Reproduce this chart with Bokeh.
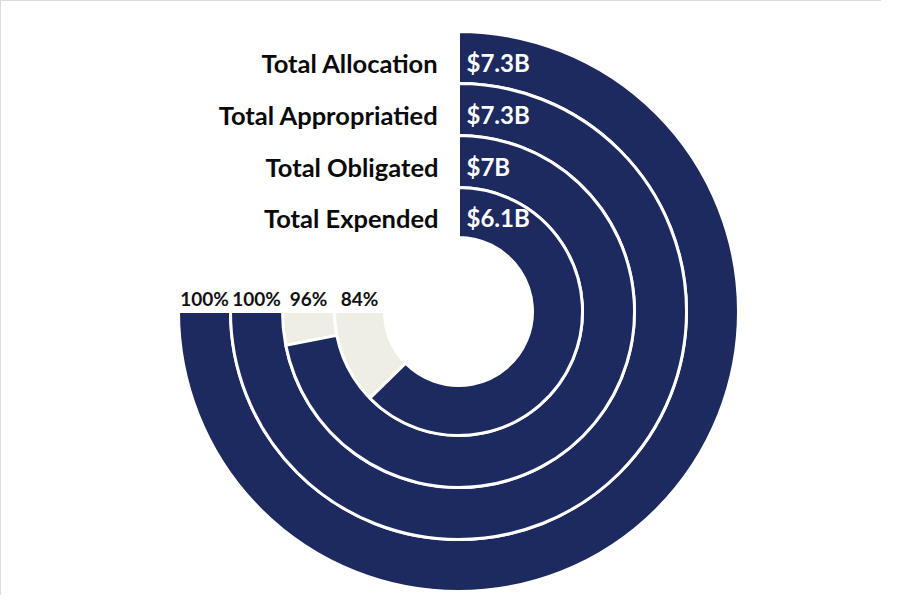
import numpy as np
from bokeh.plotting import figure
from bokeh.models import Range1d, ColumnDataSource
from bokeh.embed import file_html
from bokeh.resources import INLINE
from bokeh.core.properties import value

# ---- data ----
categories = ["Total Allocation", "Total Appropriatied", "Total Obligated", "Total Expended"]
amounts_b = [7.3, 7.3, 7.0, 6.1]
amount_labels = ["$7.3B", "$7.3B", "$7B", "$6.1B"]
pct_labels = ["100%", "100%", "96%", "84%"]

# ---- style / layout ----
NAVY = "#1c2a5f"
BEIGE = "#eeeee5"
FONT = "Lato"
W, H = 881, 595
cx, cy = 457, 310
R_OUT = 280
STEP = 52
SPAN = 1.5 * np.pi

n = len(categories)
outer = np.array([R_OUT - STEP * i for i in range(n)], dtype=float)
inner = outer - STEP
inner[-1] = outer[-1] - 50
mid = (outer + inner) / 2
frac = np.array(amounts_b) / max(amounts_b)

navy_src = ColumnDataSource(dict(
    ir=inner, orad=outer,
    start=np.pi / 2 - frac * SPAN, end=np.full(n, np.pi / 2),
))
mask = frac < 0.999
beige_src = ColumnDataSource(dict(
    ir=inner[mask], orad=outer[mask],
    start=np.full(mask.sum(), -np.pi), end=(np.pi / 2 - frac * SPAN)[mask],
))

p = figure(width=W, height=H, output_backend="svg", toolbar_location=None,
           x_range=Range1d(-cx, W - cx), y_range=Range1d(-(H - cy), cy),
           min_border=0)
p.axis.visible = False
p.grid.visible = False
p.outline_line_color = None
p.background_fill_color = "white"
p.border_fill_color = "white"
p.styles = {"border-top": "1px solid #dcdcdc", "border-left": "1px solid #dcdcdc"}

p.annular_wedge(x=0, y=0, inner_radius="ir", outer_radius="orad",
                start_angle="start", end_angle="end", source=beige_src,
                fill_color=BEIGE, line_color="white", line_width=3)
p.annular_wedge(x=0, y=0, inner_radius="ir", outer_radius="orad",
                start_angle="start", end_angle="end", source=navy_src,
                fill_color=NAVY, line_color="white", line_width=3)

lab_src = ColumnDataSource(dict(
    x=np.full(n, -20.0), vx=np.full(n, 8.0), y=mid,
    cat=categories, amt=amount_labels,
    px=-mid, py=np.full(n, 13.0), pct=pct_labels,
))
p.text(x="x", y="y", text="cat", source=lab_src, text_align="right",
       text_baseline="middle", y_offset=5, text_font=value(FONT),
       text_font_style="bold", text_font_size="25.5px", text_color="#0a0a0a")
p.text(x="vx", y="y", text="amt", source=lab_src, text_align="left",
       text_baseline="middle", y_offset=5, text_font=value(FONT),
       text_font_style="bold", text_font_size="24px", text_color="white")
p.text(x="px", y="py", text="pct", source=lab_src, text_align="center",
       text_baseline="alphabetic", text_font=value(FONT),
       text_font_style="bold", text_font_size="19px", text_color="#111111")

open("out.html", "w").write(file_html(p, INLINE))
